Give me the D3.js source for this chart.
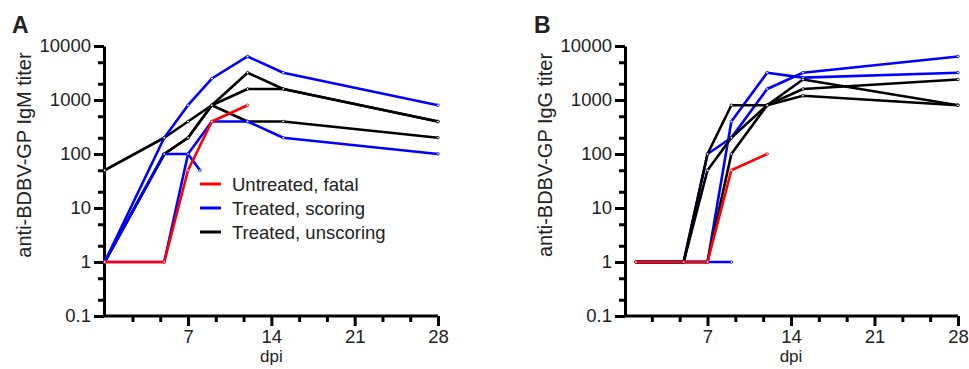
<!DOCTYPE html>
<html>
<head>
<meta charset="utf-8">
<script src="https://cdn.jsdelivr.net/npm/d3@7"></script>
<style>
  body { margin: 0; background: #fff; }
  svg { font-family: "Liberation Sans", Arial, sans-serif; }
</style>
</head>
<body>
<div id="chart"></div>
<script>
// ---- data ----
// panel A: IgM
const igmFatalDays = [0, 5, 7, 9, 12];
const igmFatal = [1, 1, 50, 400, 800];
const igmScoring1Days = [0, 5, 7, 9, 12, 15, 28];
const igmScoring1 = [1, 200, 800, 2500, 6400, 3200, 800];
const igmScoring2Days = [0, 5, 7, 8];
const igmScoring2 = [1, 100, 100, 50];
const igmScoring3Days = [0, 5, 7, 9, 12, 15, 28];
const igmScoring3 = [1, 1, 100, 400, 400, 200, 100];
const igmUnscoring1Days = [0, 5, 7, 9, 12, 15, 28];
const igmUnscoring1 = [50, 200, 400, 800, 1600, 1600, 400];
const igmUnscoring2Days = [0, 5, 7, 9, 12, 15, 28];
const igmUnscoring2 = [1, 100, 200, 800, 3200, 1600, 400];
const igmUnscoring3Days = [0, 5, 7, 9, 12, 15, 28];
const igmUnscoring3 = [1, 100, 200, 800, 400, 400, 200];

// panel B: IgG
const iggFatalDays = [1, 5, 7, 9, 12];
const iggFatal = [1, 1, 1, 50, 100];
const iggScoring1Days = [1, 5, 7, 9];
const iggScoring1 = [1, 1, 1, 1];
const iggScoring2Days = [1, 5, 7, 9, 12, 15, 28];
const iggScoring2 = [1, 1, 100, 200, 1600, 3200, 6400];
const iggScoring3Days = [1, 5, 7, 9, 12, 15, 28];
const iggScoring3 = [1, 1, 1, 400, 3200, 2600, 3200];
const iggUnscoring1Days = [1, 5, 7, 9, 12, 15, 28];
const iggUnscoring1 = [1, 1, 100, 800, 800, 2400, 800];
const iggUnscoring2Days = [1, 5, 7, 9, 12, 15, 28];
const iggUnscoring2 = [1, 1, 50, 200, 800, 1600, 2400];
const iggUnscoring3Days = [1, 5, 7, 9, 12, 15, 28];
const iggUnscoring3 = [1, 1, 1, 100, 800, 1200, 800];

const yTicks = [0.1, 1, 10, 100, 1000, 10000];
const yTickLabels = ['0.1', '1', '10', '100', '1000', '10000'];
const xTicks = [7, 14, 21, 28];
const legendLabels = ['Untreated, fatal', 'Treated, scoring', 'Treated, unscoring'];
const groupColors = { fatal: '#ff0000', scoring: '#0000ff', unscoring: '#000000' };

function zipSeries(group, days, titers) {
    return { group: group, points: days.map((d, i) => ({ day: d, titer: titers[i] })) };
}

const panelA = [
    zipSeries('unscoring', igmUnscoring1Days, igmUnscoring1),
    zipSeries('unscoring', igmUnscoring2Days, igmUnscoring2),
    zipSeries('unscoring', igmUnscoring3Days, igmUnscoring3),
    zipSeries('scoring', igmScoring1Days, igmScoring1),
    zipSeries('scoring', igmScoring2Days, igmScoring2),
    zipSeries('scoring', igmScoring3Days, igmScoring3),
    zipSeries('fatal', igmFatalDays, igmFatal)
];
// blue drawn under black here, so the early black rise shows
const panelB = [
    zipSeries('scoring', iggScoring1Days, iggScoring1),
    zipSeries('scoring', iggScoring2Days, iggScoring2),
    zipSeries('scoring', iggScoring3Days, iggScoring3),
    zipSeries('unscoring', iggUnscoring1Days, iggUnscoring1),
    zipSeries('unscoring', iggUnscoring2Days, iggUnscoring2),
    zipSeries('unscoring', iggUnscoring3Days, iggUnscoring3),
    zipSeries('fatal', iggFatalDays, iggFatal)
];

const width = 969, height = 369;
const svg = d3.select('#chart').append('svg')
    .attr('width', width)
    .attr('height', height);

function drawPanel(opts) {
    const x = d3.scaleLinear().domain([0, 28]).range([opts.left, opts.right]);
    const y = d3.scaleLog().domain([0.1, 10000]).range([316, 46]);
    const g = svg.append('g');

    // minor y ticks (2x and 5x inside each decade)
    const yMinor = [];
    yTicks.slice(0, -1).forEach(t => { yMinor.push(t * 2, t * 5); });

    const yAxis = g.append('g')
        .attr('transform', `translate(${opts.axisX},0)`)
        .call(d3.axisLeft(y).tickValues(yTicks).tickFormat((d, i) => yTickLabels[i]).tickSize(10).tickSizeOuter(0));
    g.append('g')
        .attr('transform', `translate(${opts.axisX},0)`)
        .call(d3.axisLeft(y).tickValues(yMinor).tickFormat('').tickSize(6).tickSizeOuter(0))
        .select('.domain').remove();

    const xMinor = d3.range(1, 12).map(i => i * 7 / 3).filter(v => v % 7 > 0.01 && v % 7 < 6.99);
    const xAxis = g.append('g')
        .attr('transform', 'translate(0,316)')
        .call(d3.axisBottom(x).tickValues(xTicks).tickSize(10).tickSizeOuter(0));
    g.append('g')
        .attr('transform', 'translate(0,316)')
        .call(d3.axisBottom(x).tickValues(xMinor).tickFormat('').tickSize(6).tickSizeOuter(0))
        .select('.domain').remove();

    g.selectAll('.domain').attr('stroke-width', 3);
    g.selectAll('.tick line').attr('stroke-width', 3);
    g.selectAll('.tick text').attr('font-size', 18.5).attr('fill', '#222')
        .attr('font-family', '"Liberation Sans", Arial, sans-serif');
    yAxis.selectAll('.tick text').attr('x', -13);
    xAxis.selectAll('.tick text').attr('y', 14);
    // x domain line from axis origin
    xAxis.select('.domain').attr('d', `M${opts.axisX},0H${opts.right}`);

    // axis titles
    g.append('text')
        .attr('x', x(14)).attr('y', 362)
        .attr('text-anchor', 'middle')
        .attr('font-size', 17).attr('fill', '#222')
        .text('dpi');
    g.append('text')
        .attr('transform', `translate(${opts.titleX},155) rotate(-90)`)
        .attr('text-anchor', 'middle')
        .attr('font-size', 20).attr('fill', '#222')
        .text(opts.title);
    g.append('text')
        .attr('x', opts.letterX).attr('y', 33)
        .attr('font-size', 23).attr('font-weight', 'bold').attr('fill', '#222')
        .text(opts.letter);

    const line = d3.line().x(d => x(d.day)).y(d => y(d.titer));
    const series = g.append('g').selectAll('g')
        .data(opts.data)
        .enter()
        .append('g');
    series.append('path')
        .attr('d', d => line(d.points))
        .attr('fill', 'none')
        .attr('stroke', d => groupColors[d.group])
        .attr('stroke-width', 2.6)
        .attr('stroke-linejoin', 'round');
    series.selectAll('circle')
        .data(d => d.points.map(p => ({ p: p, group: d.group })))
        .enter()
        .append('circle')
        .attr('cx', d => x(d.p.day))
        .attr('cy', d => y(d.p.titer))
        .attr('r', 1.3)
        .attr('fill', '#fff')
        .attr('stroke', d => groupColors[d.group])
        .attr('stroke-width', 0.8);

    return { x: x, y: y, g: g };
}

drawPanel({
    left: 104.7, right: 438, axisX: 104, data: panelA,
    title: 'anti-BDBV-GP IgM titer', titleX: 31, letter: 'A', letterX: 12
});
drawPanel({
    left: 624, right: 958, axisX: 625, data: panelB,
    title: 'anti-BDBV-GP IgG titer', titleX: 552, letter: 'B', letterX: 534
});

// legend in panel A
const legendKeys = ['fatal', 'scoring', 'unscoring'];
const legend = svg.append('g').attr('transform', 'translate(200,184)');
legendKeys.forEach((k, i) => {
    legend.append('line')
        .attr('x1', 0).attr('x2', 21)
        .attr('y1', i * 24).attr('y2', i * 24)
        .attr('stroke', groupColors[k]).attr('stroke-width', 3);
    legend.append('text')
        .attr('x', 32).attr('y', i * 24 + 6.5)
        .attr('font-size', 18.5).attr('fill', '#222')
        .text(legendLabels[i]);
});
</script>
</body>
</html>
